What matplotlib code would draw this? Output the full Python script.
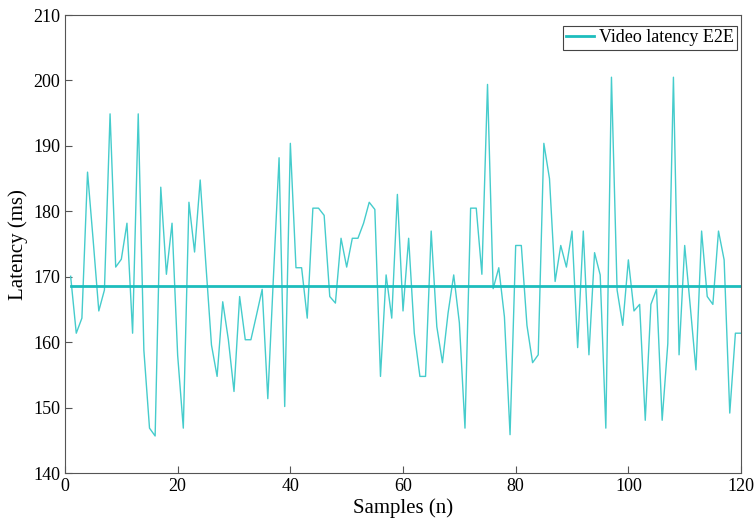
import numpy as np
import matplotlib
matplotlib.use('Agg')
import matplotlib.pyplot as plt

# latency per sample (ms)
samples = np.arange(1, 121)
latency = [
    170.1, 161.4, 163.7, 186.0, 175.6, 164.8, 168.0, 194.9, 171.5, 172.7,
    178.2, 161.4, 194.9, 158.8, 146.9, 145.7, 183.7, 170.4, 178.2, 158.0,
    146.9, 181.4, 173.8, 184.8, 172.0, 159.6, 154.8, 166.2, 160.4, 152.5,
    167.0, 160.4, 160.4, 164.2, 168.1, 151.4, 170.0, 188.2, 150.2, 190.4,
    171.4, 171.4, 163.7, 180.5, 180.5, 179.4, 167.0, 166.0, 175.9, 171.5,
    175.9, 175.9, 178.2, 181.4, 180.3, 154.8, 170.3, 163.7, 182.6, 164.8,
    175.9, 161.4, 154.8, 154.8, 177.0, 162.4, 156.9, 164.5, 170.3, 163.0,
    146.9, 180.5, 180.5, 170.4, 199.4, 168.2, 171.4, 163.9, 145.9, 174.8,
    174.8, 162.6, 156.9, 158.1, 190.4, 185.0, 169.3, 174.8, 171.5, 177.0,
    159.2, 177.0, 158.1, 173.7, 170.3, 146.9, 200.5, 168.0, 162.6, 172.6,
    164.8, 165.8, 148.1, 165.8, 168.1, 148.1, 159.8, 200.5, 158.1, 174.8,
    165.4, 155.8, 177.0, 167.0, 165.8, 177.0, 172.6, 149.2, 161.4, 161.4,
]
mean_latency = np.mean(latency)

plt.rcParams['font.family'] = ['Liberation Serif', 'DejaVu Serif']

fig = plt.figure(figsize=(7.54, 5.27), dpi=100)
ax = fig.add_axes([0.0862, 0.1019, 0.8966, 0.8696])

ax.plot(samples, latency, color='#45CCCC', linewidth=1.0)
ax.plot([samples[0], samples[-1]], [mean_latency, mean_latency],
        color='#1DBDBD', linewidth=2.0, label='Video latency E2E')

ax.set_xlim(0, 120)
ax.set_ylim(140, 210)
ax.set_xticks(np.arange(0, 121, 20))
ax.set_yticks(np.arange(140, 211, 10))
ax.tick_params(direction='in', labelsize=13, length=5, color='#555555')
for s in ax.spines.values():
    s.set_color('#555555')
    s.set_linewidth(0.8)

ax.set_xlabel('Samples (n)', fontsize=15, labelpad=2)
ax.set_ylabel('Latency (ms)', fontsize=15, labelpad=4)

leg = ax.legend(loc='upper right', fontsize=13, fancybox=False, framealpha=1,
                handlelength=1.5, handletextpad=0.3, borderpad=0.2,
                borderaxespad=0.2, bbox_to_anchor=(1.0, 0.985))
leg.get_frame().set_edgecolor('#444444')
leg.get_frame().set_linewidth(0.8)

fig.savefig('out.png', dpi=100)
